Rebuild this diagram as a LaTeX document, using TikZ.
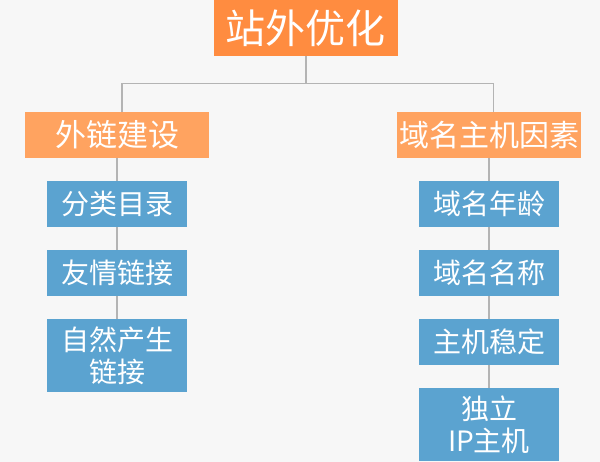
\documentclass[tikz,border=0pt]{standalone}
\usepackage{fontspec}
\usepackage{tikz}
\usetikzlibrary{positioning, calc}
\newfontfamily\cjk{Noto Sans CJK SC}
\definecolor{bgcolor}{RGB}{247, 247, 247}
\definecolor{rootcolor}{RGB}{255, 140, 64}
\definecolor{groupcolor}{RGB}{255, 163, 96}
\definecolor{itemcolor}{RGB}{91, 163, 208}
\definecolor{linecolor}{RGB}{180, 180, 180}

\begin{document}
\begin{tikzpicture}[x=1pt, y=-1pt,
    rootbox/.style={fill=rootcolor, text=white, inner sep=0pt, minimum width=184pt, minimum height=55.7pt, font={\cjk\fontsize{40}{44}\selectfont}},
    groupbox/.style={fill=groupcolor, text=white, inner sep=0pt, minimum width=184pt, minimum height=45.7pt, font={\cjk\fontsize{31}{36}\selectfont}},
    itembox/.style={fill=itemcolor, text=white, inner sep=0pt, minimum width=140pt, minimum height=45.7pt, align=center, font={\cjk\fontsize{28}{32}\selectfont}},
    conn/.style={draw=linecolor, line width=1.2pt}]
    % Background
    \fill[bgcolor] (0, 0) rectangle (600, 462);

    % Root
    \node[rootbox] (root) at (305.9, 27.85) {站外优化};

    % Groups
    \node[groupbox] (links) at (117, 134.85) {外链建设};
    \node[groupbox, font={\cjk\fontsize{30}{36}\selectfont}] (domain) at (489, 134.85) {域名主机因素};

    % Left items
    \node[itembox] (dir) at (117, 203.85) {分类目录};
    \node[itembox] (friend) at (117, 272.85) {友情链接};
    \node[itembox, minimum height=72.7pt] (natural) at (117, 355.35) {自然产生\\链接};

    % Right items
    \node[itembox] (age) at (489, 203.85) {域名年龄};
    \node[itembox] (name) at (489, 272.85) {域名名称};
    \node[itembox] (host) at (489, 341.85) {主机稳定};
    \node[itembox, minimum height=73pt] (ip) at (489, 424.5) {独立\\IP主机};

    % Root to groups
    \draw[conn] (root.south) -- ++(0, 27.6) -| ([xshift=5pt]links.north);
    \draw[conn] (root.south) -- ++(0, 27.6) -| ([xshift=4.7pt]domain.north);

    % Chains
    \foreach \a/\b in {links/dir, dir/friend, friend/natural, domain/age, age/name, name/host, host/ip}
        \draw[conn] (\a.south) -- (\b.north);
\end{tikzpicture}
\end{document}
